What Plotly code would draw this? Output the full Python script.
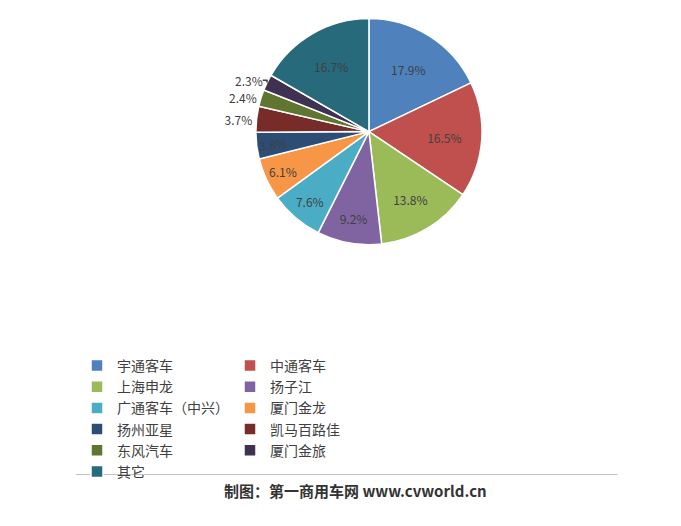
import plotly.graph_objects as go

labels = ["宇通客车", "中通客车", "上海申龙", "扬子江", "广通客车（中兴）", "厦门金龙",
          "扬州亚星", "凯马百路佳", "东风汽车", "厦门金旅", "其它"]
values = [17.9, 16.5, 13.8, 9.2, 7.6, 6.1, 3.8, 3.7, 2.4, 2.3, 16.7]
colors = ["#4F81BD", "#C0504D", "#9BBB59", "#8064A2", "#4BACC6", "#F79646",
          "#2C4D75", "#772C2A", "#5F7530", "#3F3151", "#276A7C"]
positions = ["inside"] * 7 + ["outside", "outside", "outside", "inside"]

fig = go.Figure(go.Pie(
    labels=labels, values=values, sort=False, direction="clockwise", rotation=0,
    marker=dict(colors=colors, line=dict(color="white", width=1.5)),
    texttemplate="%{value:.1f}%", textposition=positions,
    insidetextfont=dict(color="#404040", size=12), outsidetextfont=dict(color="#404040", size=12),
    domain=dict(x=[0.33, 0.73], y=[0.55, 0.98]), hoverinfo="label+percent",
))
fig.update_layout(
    width=681, height=526, margin=dict(l=0, r=0, t=0, b=0),
    paper_bgcolor="white", font=dict(family="Noto Sans CJK SC", color="#404040", size=14),
    legend=dict(orientation="h", x=0.2, y=0.35, xanchor="left", yanchor="top",
                entrywidth=108, entrywidthmode="pixels", font=dict(size=14),
                itemwidth=30, bgcolor="rgba(0,0,0,0)"),
    shapes=[dict(type="line", xref="paper", yref="paper", x0=0.1, x1=0.895, y0=0.113, y1=0.113,
                 line=dict(color="#BFBFBF", width=1))],
    annotations=[dict(text="<b>制图：第一商用车网 www.cvworld.cn</b>", xref="paper", yref="paper",
                      x=0.51, y=0.058, showarrow=False, font=dict(size=15, color="#333333"))],
)
fig.write_html("out.html")
